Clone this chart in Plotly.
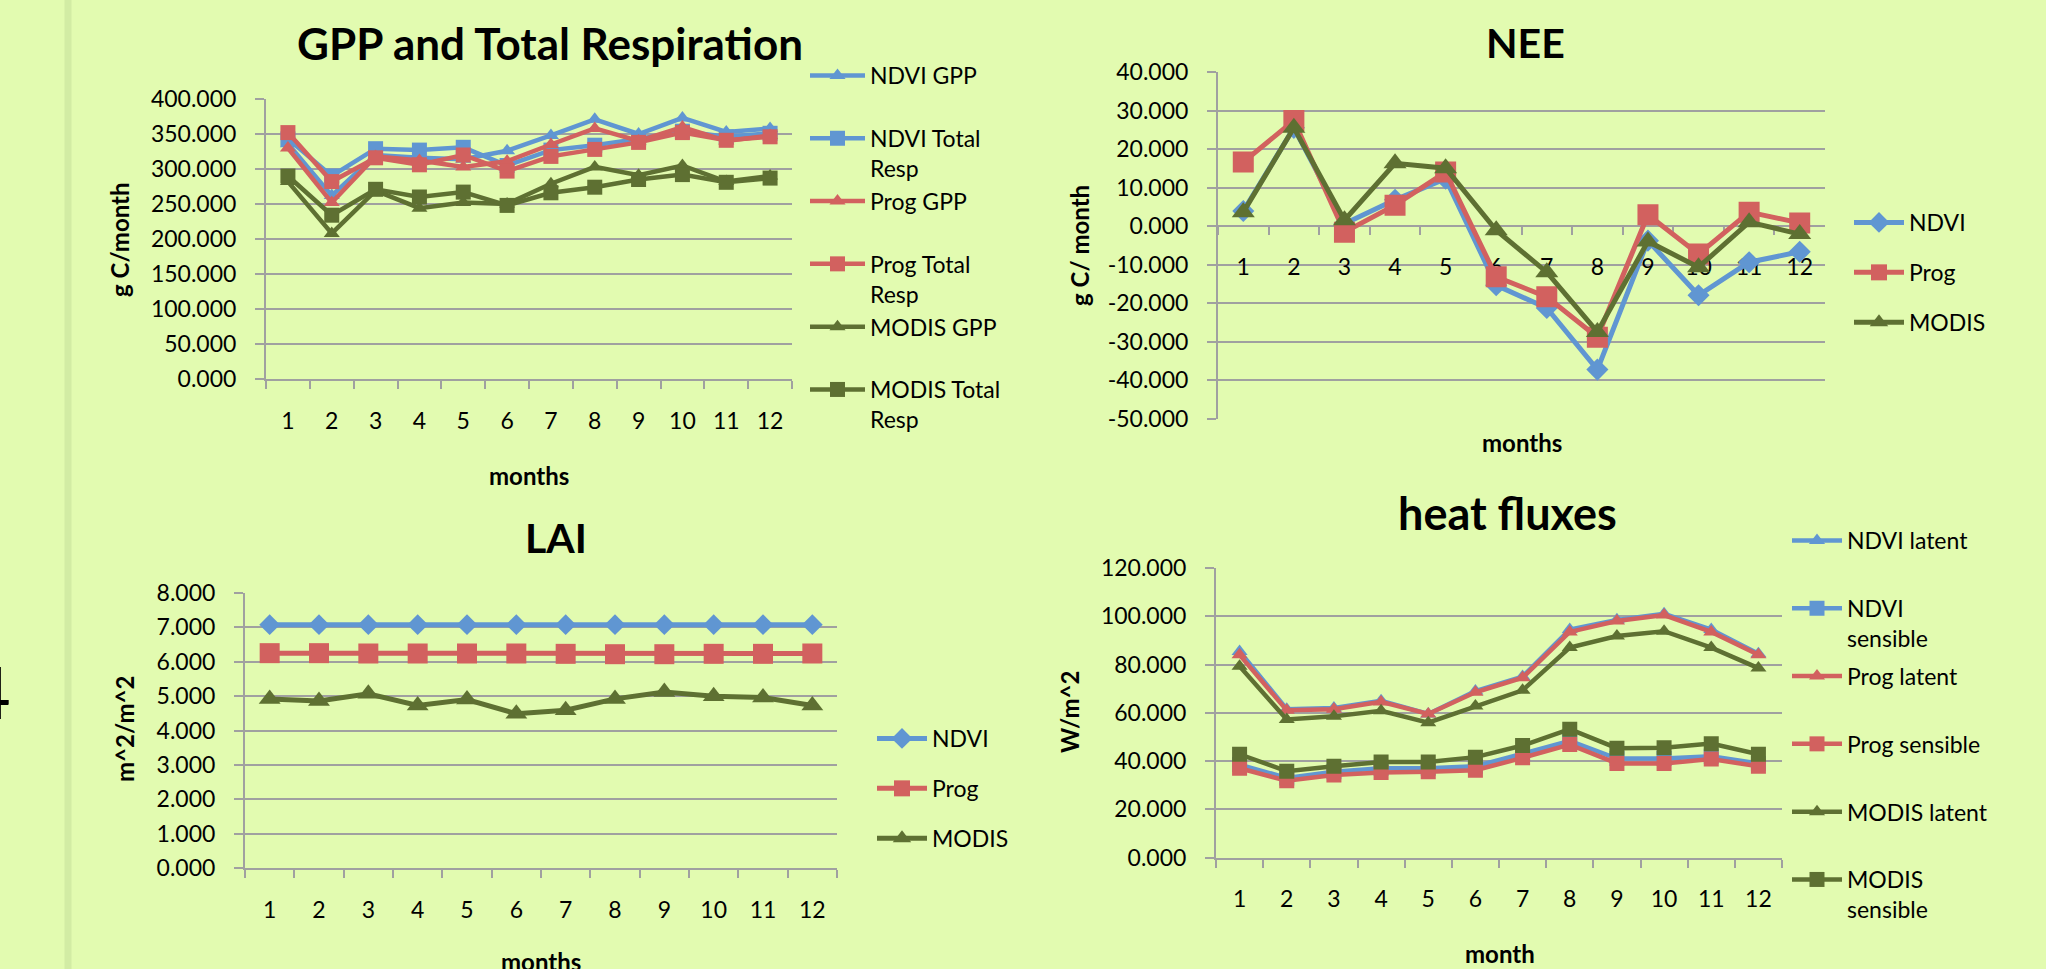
import plotly.graph_objects as go

W, H = 2046, 969

months = ["1", "2", "3", "4", "5", "6", "7", "8", "9", "10", "11", "12"]

# ---- GPP and Total Respiration (g C/month)
gpp_ndvi_gpp = [336, 262, 320, 316, 314, 326, 348, 371, 350, 373, 353, 358]
gpp_ndvi_resp = [343, 290, 329, 327, 331, 305, 327, 334, 343, 354, 346, 351]
gpp_prog_gpp = [330, 252, 318, 312, 303, 311, 335, 358, 340, 360, 340, 348]
gpp_prog_resp = [352, 282, 316, 306, 320, 297, 318, 328, 338, 352, 341, 346]
gpp_modis_gpp = [282, 208, 269, 244, 252, 250, 279, 303, 291, 305, 282, 290]
gpp_modis_resp = [290, 234, 271, 260, 267, 248, 266, 274, 285, 292, 281, 287]
gpp_ticks = [0, 50, 100, 150, 200, 250, 300, 350, 400]
gpp_ticktext = ["0.000", "50.000", "100.000", "150.000", "200.000", "250.000", "300.000", "350.000", "400.000"]

# ---- NEE (g C/ month)
nee_ndvi = [3.9, 25.5, 0.6, 6.8, 12.3, -15.4, -21.3, -37.3, -3.8, -18.0, -9.4, -6.7]
nee_prog = [16.6, 27.4, -1.6, 5.4, 14.0, -13.2, -18.4, -28.9, 2.9, -7.3, 3.6, 0.8]
nee_modis = [3.6, 25.5, 1.5, 16.3, 15.0, -1.1, -12.0, -27.5, -4.0, -10.7, 1.0, -2.1]
nee_ticks = [-50, -40, -30, -20, -10, 0, 10, 20, 30, 40]
nee_ticktext = ["-50.000", "-40.000", "-30.000", "-20.000", "-10.000", "0.000", "10.000", "20.000", "30.000", "40.000"]

# ---- LAI (m^2/m^2)
lai_ndvi = [7.08, 7.08, 7.08, 7.08, 7.08, 7.08, 7.08, 7.08, 7.08, 7.08, 7.08, 7.08]
lai_prog = [6.25, 6.25, 6.24, 6.24, 6.24, 6.24, 6.23, 6.22, 6.22, 6.23, 6.23, 6.24]
lai_modis = [4.92, 4.86, 5.07, 4.73, 4.90, 4.49, 4.59, 4.92, 5.12, 5.00, 4.96, 4.73]
lai_ticks = [0, 1, 2, 3, 4, 5, 6, 7, 8]
lai_ticktext = ["0.000", "1.000", "2.000", "3.000", "4.000", "5.000", "6.000", "7.000", "8.000"]

# ---- heat fluxes (W/m^2)
hf_ndvi_lat = [85.4, 61.5, 62.0, 65.0, 59.5, 69.0, 75.0, 94.5, 98.5, 101.0, 94.5, 84.5]
hf_ndvi_sen = [38.5, 33.0, 35.5, 37.0, 37.0, 37.8, 43.0, 48.3, 41.0, 41.0, 42.0, 39.0]
hf_prog_lat = [84.0, 61.0, 61.5, 64.5, 59.5, 68.5, 74.5, 93.5, 98.0, 100.5, 93.5, 84.0]
hf_prog_sen = [37.0, 31.8, 34.2, 35.2, 35.5, 36.2, 41.3, 46.8, 39.0, 39.0, 40.8, 37.8]
hf_modis_lat = [79.3, 57.2, 58.5, 60.8, 55.9, 62.8, 69.3, 87.0, 91.8, 93.8, 87.0, 78.5]
hf_modis_sen = [42.8, 35.8, 37.8, 39.6, 39.6, 41.6, 46.4, 53.2, 45.3, 45.5, 47.2, 42.8]
hf_ticks = [0, 20, 40, 60, 80, 100, 120]
hf_ticktext = ["0.000", "20.000", "40.000", "60.000", "80.000", "100.000", "120.000"]

BG = "#E2FBB0"
BLUE = "#6096D2"
RED = "#D2615F"
GREEN = "#5E7032"
GRID = "#A0A0A0"
FONT = "Lato"
FS = 23


def fx(px):
    return px / W


def fy(py):
    return 1 - py / H


fig = go.Figure()

NB = "<br>\u00a0"

panels = [
    # (xaxis, yaxis, legend, marker size, line width, series)
    ("x", "y", "legend", 15, 4.5, [
        ("NDVI GPP" + NB, gpp_ndvi_gpp, BLUE, "triangle-up"),
        ("NDVI Total<br>Resp", gpp_ndvi_resp, BLUE, "square"),
        ("Prog GPP" + NB, gpp_prog_gpp, RED, "triangle-up"),
        ("Prog Total<br>Resp", gpp_prog_resp, RED, "square"),
        ("MODIS GPP" + NB, gpp_modis_gpp, GREEN, "triangle-up"),
        ("MODIS Total<br>Resp", gpp_modis_resp, GREEN, "square"),
    ]),
    ("x2", "y2", "legend2", 21, 5, [
        ("NDVI", nee_ndvi, BLUE, "diamond"),
        ("Prog", nee_prog, RED, "square"),
        ("MODIS", nee_modis, GREEN, "triangle-up"),
    ]),
    ("x3", "y3", "legend3", 20, 5, [
        ("NDVI", lai_ndvi, BLUE, "diamond"),
        ("Prog", lai_prog, RED, "square"),
        ("MODIS", lai_modis, GREEN, "triangle-up"),
    ]),
    ("x4", "y4", "legend4", 15, 4.5, [
        ("NDVI latent" + NB, hf_ndvi_lat, BLUE, "triangle-up"),
        ("NDVI<br>sensible", hf_ndvi_sen, BLUE, "square"),
        ("Prog latent" + NB, hf_prog_lat, RED, "triangle-up"),
        ("Prog sensible" + NB, hf_prog_sen, RED, "square"),
        ("MODIS latent" + NB, hf_modis_lat, GREEN, "triangle-up"),
        ("MODIS<br>sensible", hf_modis_sen, GREEN, "square"),
    ]),
]

for pi, (xa, ya, lg, msize, lw, series) in enumerate(panels):
    for si, (name, vals, col, sym) in enumerate(series):
        size = msize
        if sym == "diamond":
            size = round(msize * 0.8)
        elif sym == "triangle-up":
            size = round(msize * 0.95)
        fig.add_trace(go.Scatter(
            x=months, y=vals, name=name, mode="lines+markers",
            xaxis=xa, yaxis=ya, legend=lg, legendgroup=f"p{pi}s{si}",
            line=dict(color=col, width=lw),
            marker=dict(color=col, symbol=sym, size=size),
        ))

tickfont = dict(family=FONT, size=FS, color="black")


def xaxis_cfg(x0, x1, anchor, position=None):
    d = dict(
        domain=[fx(x0), fx(x1)], type="category", categoryorder="array",
        categoryarray=months, range=[-0.5, 11.5], tickson="boundaries",
        ticks="outside", ticklen=8, tickwidth=2, tickcolor=GRID,
        showline=True, linecolor=GRID, linewidth=2, showgrid=False,
        zeroline=False, tickfont=tickfont, ticklabelstandoff=20,
        anchor=anchor, fixedrange=True, automargin=False,
    )
    if position is not None:
        d["anchor"] = "free"
        d["position"] = position
        d["layer"] = "below traces"
    return d


def yaxis_cfg(ytop, ybot, rng, tv, tt, anchor):
    return dict(
        domain=[fy(ybot), fy(ytop)], range=rng, tickvals=tv, ticktext=tt,
        ticks="outside", ticklen=9, tickwidth=2, tickcolor=GRID,
        showline=True, linecolor=GRID, linewidth=2, showgrid=True,
        gridcolor=GRID, gridwidth=2, zeroline=False, tickfont=tickfont,
        ticklabelstandoff=14, anchor=anchor, fixedrange=True, automargin=False,
    )


nee_top, nee_bot = 72, 418.5
nee_zero = nee_top + (nee_bot - nee_top) * 40 / 90

legend_common = dict(
    font=dict(family=FONT, size=FS, color="black"), bgcolor="rgba(0,0,0,0)",
    xanchor="left", yanchor="top", itemclick=False, itemdoubleclick=False,
    itemwidth=50,
)

fig.update_layout(
    width=W, height=H, margin=dict(l=0, r=0, t=0, b=0, autoexpand=False),
    paper_bgcolor=BG, plot_bgcolor=BG, showlegend=True,
    font=dict(family=FONT, size=FS, color="black"),
    xaxis=xaxis_cfg(266, 792, "y"),
    yaxis=yaxis_cfg(99, 379, [0, 400], gpp_ticks, gpp_ticktext, "x"),
    xaxis2=xaxis_cfg(1218, 1825, "y2", position=fy(nee_zero)),
    yaxis2=yaxis_cfg(nee_top, nee_bot, [-50, 40], nee_ticks, nee_ticktext, "x2"),
    xaxis3=xaxis_cfg(245, 837, "y3"),
    yaxis3=yaxis_cfg(593, 868, [0, 8], lai_ticks, lai_ticktext, "x3"),
    xaxis4=xaxis_cfg(1216, 1782, "y4"),
    yaxis4=yaxis_cfg(568, 857.5, [0, 120], hf_ticks, hf_ticktext, "x4"),
    legend=dict(legend_common, x=fx(805), y=fy(54), valign="top",
                tracegroupgap=0, itemwidth=55),
    legend2=dict(legend_common, x=fx(1849), y=fy(201), tracegroupgap=17),
    legend3=dict(legend_common, x=fx(872), y=fy(717), tracegroupgap=17),
    legend4=dict(legend_common, x=fx(1787), y=fy(519), valign="top", tracegroupgap=5),
)

annots = [
    # chart titles
    ("GPP and Total Respiration", 550, 43, 44),
    ("NEE", 1525, 43, 41),
    ("LAI", 556, 537, 41),
    ("heat fluxes", 1507, 513, 45),
]
for text, px, py, size in annots:
    fig.add_annotation(
        text=f"<b>{text}</b>", xref="paper", yref="paper",
        x=fx(px), y=fy(py), xanchor="center", yanchor="middle",
        showarrow=False, font=dict(family=FONT, size=size, color="black"),
    )

axis_titles = [
    ("months", 529, 475, 0),
    ("months", 1522, 442, 0),
    ("months", 541, 961, 0),
    ("month", 1500, 953, 0),
    ("g C/month", 120, 240, -90),
    ("g C/ month", 1079, 246, -90),
    ("m^2/m^2", 124, 729, -90),
    ("W/m^2", 1069, 712, -90),
]
for text, px, py, ang in axis_titles:
    fig.add_annotation(
        text=f"<b>{text}</b>", xref="paper", yref="paper",
        x=fx(px), y=fy(py), xanchor="center", yanchor="middle",
        showarrow=False, textangle=ang,
        font=dict(family=FONT, size=24, color="black"),
    )

# partial slide number at the left edge
fig.add_annotation(
    text="4", xref="paper", yref="paper", x=fx(13), y=fy(691),
    xanchor="right", yanchor="middle", showarrow=False,
    font=dict(family=FONT, size=72, color="black"),
)

# slide border line
fig.add_shape(type="line", xref="paper", yref="paper", x0=fx(68), x1=fx(68),
              y0=0, y1=1, line=dict(color="#D2ECA4", width=7), layer="below")

fig.write_html("out.html")
